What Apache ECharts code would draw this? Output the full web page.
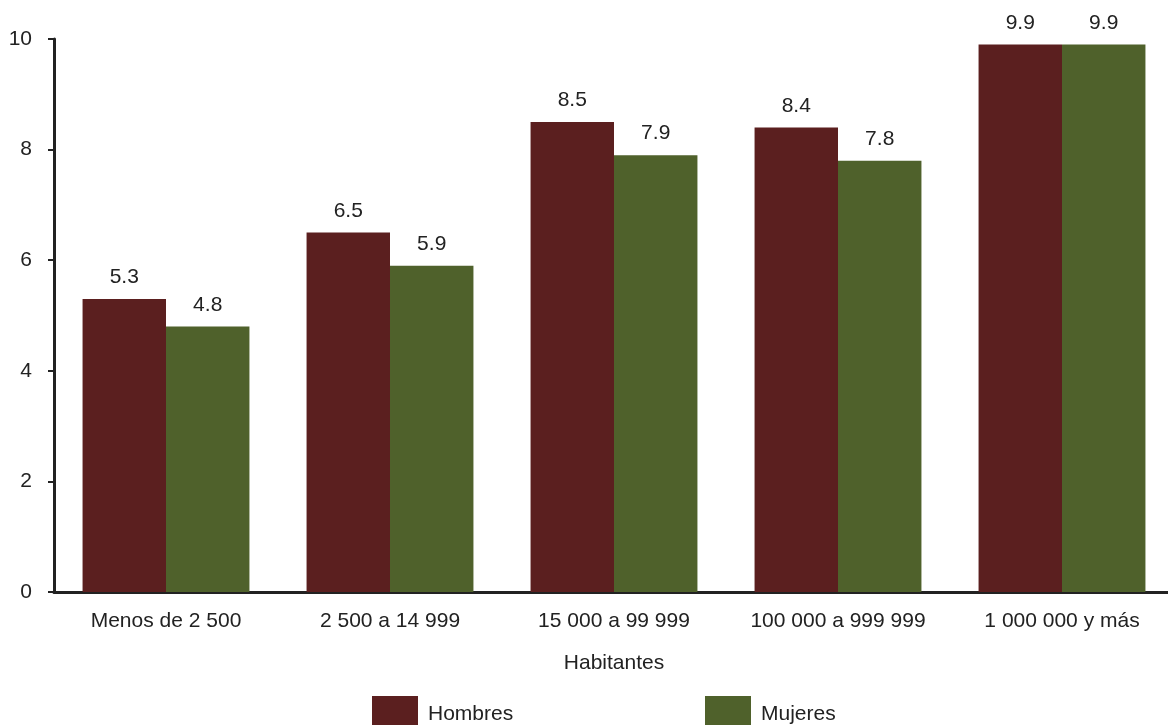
<!DOCTYPE html>
<html>
<head>
<meta charset="utf-8">
<script src="https://cdn.jsdelivr.net/npm/echarts@6/dist/echarts.min.js"></script>
<style>html,body{margin:0;padding:0;background:#fff;overflow:hidden}#c{width:1174px;height:725px}</style>
</head>
<body>
<div id="c"></div>
<script>
const categories = ['Menos de 2 500', '2 500 a 14 999', '15 000 a 99 999', '100 000 a 999 999', '1 000 000 y más'];
const hombres = [5.3, 6.5, 8.5, 8.4, 9.9];
const mujeres = [4.8, 5.9, 7.9, 7.8, 9.9];
const yTicks = [0, 2, 4, 6, 8, 10];

const font = 'Liberation Sans, Arial, Helvetica, sans-serif';
const txt = '#222';
const fs = 21;
const chart = echarts.init(document.getElementById('c'));
chart.setOption({
  animation: false,
  textStyle: { fontFamily: font },
  grid: { left: 54, right: 0, top: 39, bottom: 133 },
  legend: [
    { data: ['Hombres'], left: 367, top: 691, itemWidth: 46, itemHeight: 36, itemGap: 10,
      textStyle: { fontSize: fs, color: txt, fontFamily: font, padding: [0, 0, 0, 5] }, icon: 'rect' },
    { data: ['Mujeres'], left: 700, top: 691, itemWidth: 46, itemHeight: 36, itemGap: 10,
      textStyle: { fontSize: fs, color: txt, fontFamily: font, padding: [0, 0, 0, 5] }, icon: 'rect' }
  ],
  xAxis: {
    type: 'category', data: categories,
    name: 'Habitantes', nameLocation: 'middle', nameGap: 61,
    nameTextStyle: { fontSize: fs, color: txt, fontFamily: font },
    axisLine: { lineStyle: { color: '#222', width: 3 } },
    axisTick: { show: false },
    axisLabel: { fontSize: fs, color: txt, margin: 19, fontFamily: font, interval: 0 }
  },
  yAxis: {
    type: 'value', min: yTicks[0], max: yTicks[yTicks.length - 1], interval: 2,
    axisLine: { show: true, lineStyle: { color: '#222', width: 3 } },
    axisTick: { show: true, length: 6, lineStyle: { color: '#222', width: 2 } },
    splitLine: { show: false },
    axisLabel: { fontSize: fs, color: txt, margin: 22, fontFamily: font }
  },
  series: [
    { name: 'Hombres', type: 'bar', data: hombres, barGap: '0%', barCategoryGap: '25.5%',
      itemStyle: { color: '#5B1F1F' },
      label: { show: true, position: 'top', distance: 11, fontSize: fs, color: txt, fontFamily: font, formatter: p => p.value.toFixed(1) } },
    { name: 'Mujeres', type: 'bar', data: mujeres, barGap: '0%', barCategoryGap: '25.5%',
      itemStyle: { color: '#4F612B' },
      label: { show: true, position: 'top', distance: 11, fontSize: fs, color: txt, fontFamily: font, formatter: p => p.value.toFixed(1) } }
  ]
});
</script>
</body>
</html>
